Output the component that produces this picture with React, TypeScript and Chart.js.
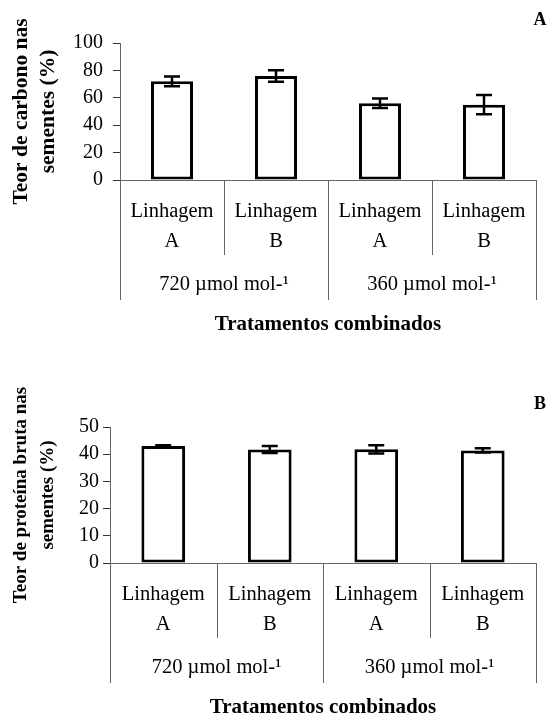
import React, { useEffect, useRef } from "react";
import { Chart, registerables } from "chart.js";

Chart.register(...registerables);

// ---------- data ----------
const categoryLines = [
  ["Linhagem", "A"],
  ["Linhagem", "B"],
  ["Linhagem", "A"],
  ["Linhagem", "B"],
];
const groupLabels = ["720 µmol mol-¹", "360 µmol mol-¹"];
const xAxisTitle = "Tratamentos combinados";

const carbonValues = [72, 76, 56, 55];
const carbonErrors = [3.5, 4.2, 3.5, 7];
const carbonTicks = [0, 20, 40, 60, 80, 100];
const carbonTitle = ["Teor de carbono nas", "sementes (%)"];

const proteinValues = [43, 41.7, 41.8, 41.4];
const proteinErrors = [0.3, 1.3, 1.5, 0.8];
const proteinTicks = [0, 10, 20, 30, 40, 50];
const proteinTitle = ["Teor de proteína bruta nas", "sementes (%)"];

const SERIF = "'Liberation Serif', 'Times New Roman', serif";

type PanelProps = {
  values: number[];
  errors: number[];
  ticks: number[];
  yTitle: string[];
  titleSize: number;
  letter: string;
  top: number;
  height: number;
  padTop: number;
  axisWidth: number;
  xHeight: number;
  padRight: number;
  tickPad: number;
  letterY: number;
  barPct: number;
};

function Panel(p: PanelProps) {
  const ref = useRef<HTMLCanvasElement | null>(null);
  useEffect(() => {
    if (!ref.current) return;
    const overlay = {
      id: "overlay",
      afterDraw(chart: any) {
        const ctx = chart.ctx as CanvasRenderingContext2D;
        const { left, right, bottom } = chart.chartArea;
        const xs = chart.scales.x;
        const ys = chart.scales.y;
        const centers = p.values.map((_, i) => xs.getPixelForValue(i));
        const bounds = [
          left,
          ...centers.slice(1).map((c: number, i: number) => (c + centers[i]) / 2),
          right,
        ];
        ctx.save();
        // error bars
        ctx.strokeStyle = "#000";
        ctx.lineWidth = 2.5;
        const meta = chart.getDatasetMeta(0);
        meta.data.forEach((bar: any, i: number) => {
          const cx = bar.x;
          const yt = ys.getPixelForValue(p.values[i] + p.errors[i]);
          const yb = ys.getPixelForValue(p.values[i] - p.errors[i]);
          ctx.beginPath();
          ctx.moveTo(cx, yt);
          ctx.lineTo(cx, yb);
          ctx.moveTo(cx - 8, yt);
          ctx.lineTo(cx + 8, yt);
          ctx.moveTo(cx - 8, yb);
          ctx.lineTo(cx + 8, yb);
          ctx.stroke();
        });
        // dividers
        ctx.strokeStyle = "#666";
        ctx.lineWidth = 1;
        const perGroup = p.values.length / groupLabels.length;
        bounds.forEach((bx: number, k: number) => {
          const len = k % perGroup === 0 ? 120 : 75;
          const px = Math.round(bx) + 0.5;
          ctx.beginPath();
          ctx.moveTo(px, bottom);
          ctx.lineTo(px, bottom + len);
          ctx.stroke();
        });
        // category labels
        ctx.fillStyle = "#000";
        ctx.textAlign = "center";
        ctx.textBaseline = "middle";
        ctx.font = `20.5px ${SERIF}`;
        categoryLines.forEach((lines, i) => {
          lines.forEach((t, j) => ctx.fillText(t, centers[i], bottom + 32 + j * 30));
        });
        groupLabels.forEach((g, gi) => {
          const gx = (bounds[gi * perGroup] + bounds[(gi + 1) * perGroup]) / 2;
          ctx.fillText(g, gx, bottom + 105);
        });
        ctx.font = `bold 21px ${SERIF}`;
        ctx.fillText(xAxisTitle, (left + right) / 2, bottom + 145);
        ctx.font = `bold 18px ${SERIF}`;
        ctx.fillText(p.letter, 540, p.letterY);
        ctx.restore();
      },
    };

    const chart = new Chart(ref.current, {
      type: "bar",
      data: {
        labels: categoryLines.map((l) => l.join(" ")),
        datasets: [
          {
            data: p.values,
            backgroundColor: "#fff",
            borderColor: "#000",
            borderWidth: 3,
            borderSkipped: false,
            categoryPercentage: 1,
            barPercentage: p.barPct,
          },
        ],
      },
      options: {
        responsive: false,
        maintainAspectRatio: false,
        animation: false,
        devicePixelRatio: 1,
        layout: { padding: { top: p.padTop, right: p.padRight, left: 0, bottom: 0 } },
        plugins: { legend: { display: false }, tooltip: { enabled: false } },
        scales: {
          x: {
            grid: { display: false },
            ticks: { display: false },
            border: { display: true, color: "#666", width: 1 },
            afterFit: (s: any) => {
              s.height = p.xHeight;
            },
          },
          y: {
            min: p.ticks[0],
            max: p.ticks[p.ticks.length - 1],
            ticks: {
              stepSize: p.ticks[1] - p.ticks[0],
              color: "#000",
              font: { family: SERIF, size: 20 },
              padding: p.tickPad,
            },
            grid: { drawOnChartArea: false, drawTicks: true, tickLength: 7, color: "#333" },
            border: { display: true, color: "#666", width: 1 },
            title: {
              display: true,
              text: p.yTitle,
              color: "#000",
              font: { family: SERIF, size: p.titleSize, weight: "bold", lineHeight: 27 / p.titleSize },
              padding: { top: 8, bottom: 0 },
            },
            afterFit: (s: any) => {
              s.width = p.axisWidth;
            },
          },
        },
      },
      plugins: [overlay],
    } as any);
    return () => chart.destroy();
  }, []);
  return (
    <canvas
      ref={ref}
      width={547}
      height={p.height}
      style={{ position: "absolute", left: 0, top: p.top, width: 547, height: p.height, display: "block" }}
    />
  );
}

export default function App() {
  return (
    <div style={{ position: "absolute", left: 0, top: 0, width: 547, height: 719, background: "#fff" }}>
      <Panel
        values={carbonValues}
        errors={carbonErrors}
        ticks={carbonTicks}
        yTitle={carbonTitle}
        titleSize={21.5}
        letter="A"
        top={0}
        height={360}
        padTop={43}
        axisWidth={120}
        xHeight={180}
        padRight={11}
        tickPad={10}
        letterY={20}
        barPct={0.404}
      />
      <Panel
        values={proteinValues}
        errors={proteinErrors}
        ticks={proteinTicks}
        yTitle={proteinTitle}
        titleSize={19}
        letter="B"
        top={360}
        height={359}
        padTop={67}
        axisWidth={110}
        xHeight={156}
        padRight={11}
        tickPad={4}
        letterY={44}
        barPct={0.41}
      />
    </div>
  );
}
